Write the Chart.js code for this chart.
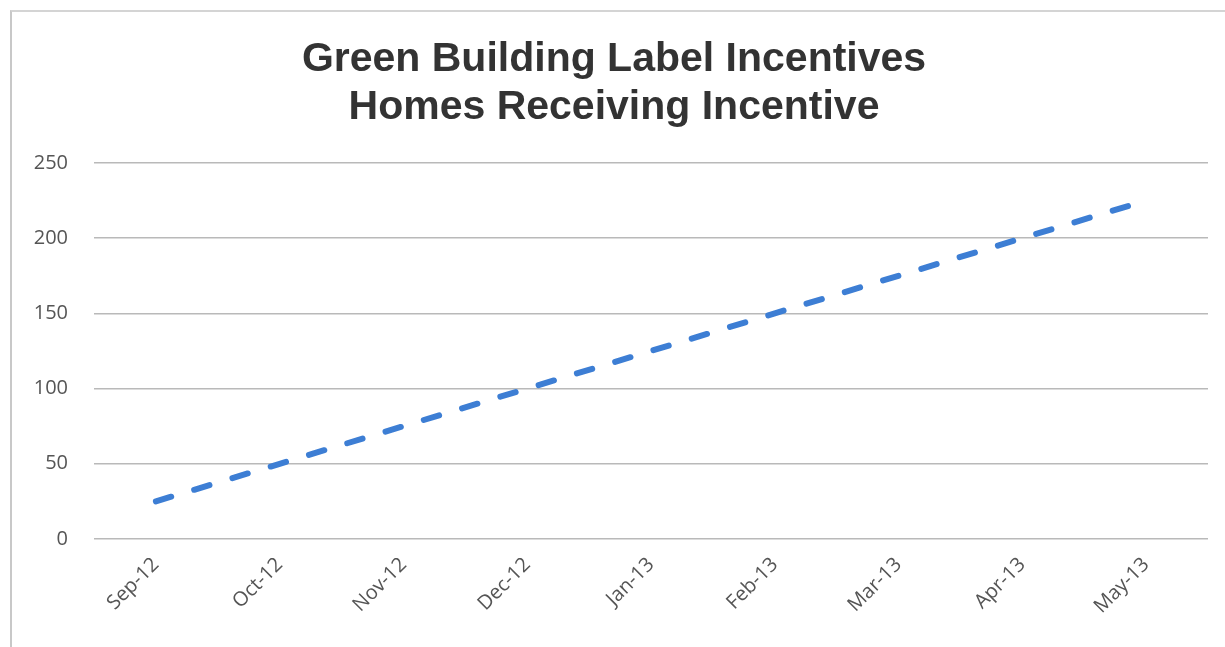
<!DOCTYPE html>
<html>
<head>
<meta charset="utf-8">
<script src="https://cdn.jsdelivr.net/npm/chart.js@4"></script>
<style>
  body { margin: 0; background: #fff; }
  #frame {
    position: absolute; left: 10px; top: 10px; width: 1230px; height: 650px;
    border-left: 2px solid #c8c8c8; border-top: 2px solid #d4d4d4;
  }
  #wrap { position: absolute; left: 0; top: 0; width: 1225px; height: 647px; }
</style>
</head>
<body>
<div id="frame"></div>
<div id="wrap"><canvas id="homes-chart" width="1225" height="647"></canvas></div>
<script>
const months = ["Sep-12", "Oct-12", "Nov-12", "Dec-12", "Jan-13", "Feb-13", "Mar-13", "Apr-13", "May-13"]
const homesReceiving = [25, 50, 75, 100, 125, 150, 175, 200, 225]
const yTicks = [0, 50, 100, 150, 200, 250]
const titleLines = ["Green Building Label Incentives", "Homes Receiving Incentive"]

;(function () {
    'use strict'

    let canvas = document.getElementById("homes-chart")
    let tickColor = "#555555"
    let gridColor = "#b9b9b9"

    let config = {
        type: "line",
        data: {
            labels: months,
            datasets: [
                {
                    data: homesReceiving,
                    borderColor: "#3d7ed4",
                    borderWidth: 6,
                    borderDash: [16, 24],
                    borderCapStyle: "round",
                    pointRadius: 0,
                    fill: false,
                    tension: 0
                }
            ]
        },
        options: {
            responsive: false,
            animation: false,
            layout: {
                padding: { left: 20, right: 17, top: 36, bottom: 0 }
            },
            plugins: {
                legend: { display: false },
                tooltip: { enabled: false },
                title: {
                    display: true,
                    text: titleLines,
                    color: "#333333",
                    font: { family: "'Liberation Sans', Arial, sans-serif", size: 41, weight: "bold", lineHeight: 1.17 },
                    padding: { top: 0, bottom: 31 }
                }
            },
            scales: {
                y: {
                    min: 0,
                    max: 250,
                    afterBuildTicks: axis => {
                        axis.ticks = yTicks.map(v => ({ value: v }))
                    },
                    afterFit: axis => {
                        axis.width = 74
                    },
                    border: { display: false },
                    grid: {
                        color: gridColor,
                        lineWidth: 1.5,
                        drawTicks: false
                    },
                    ticks: {
                        color: tickColor,
                        padding: 26,
                        font: { family: "'Open Sans', sans-serif", size: 20 }
                    }
                },
                x: {
                    offset: true,
                    afterFit: axis => {
                        axis.height = 108
                    },
                    border: { display: false },
                    grid: { display: false },
                    ticks: {
                        color: tickColor,
                        minRotation: 45,
                        maxRotation: 45,
                        padding: 6,
                        font: { family: "'Open Sans', sans-serif", size: 20 }
                    }
                }
            }
        }
    }

    let chart = new Chart(canvas, config)
})()
</script>
</body>
</html>
